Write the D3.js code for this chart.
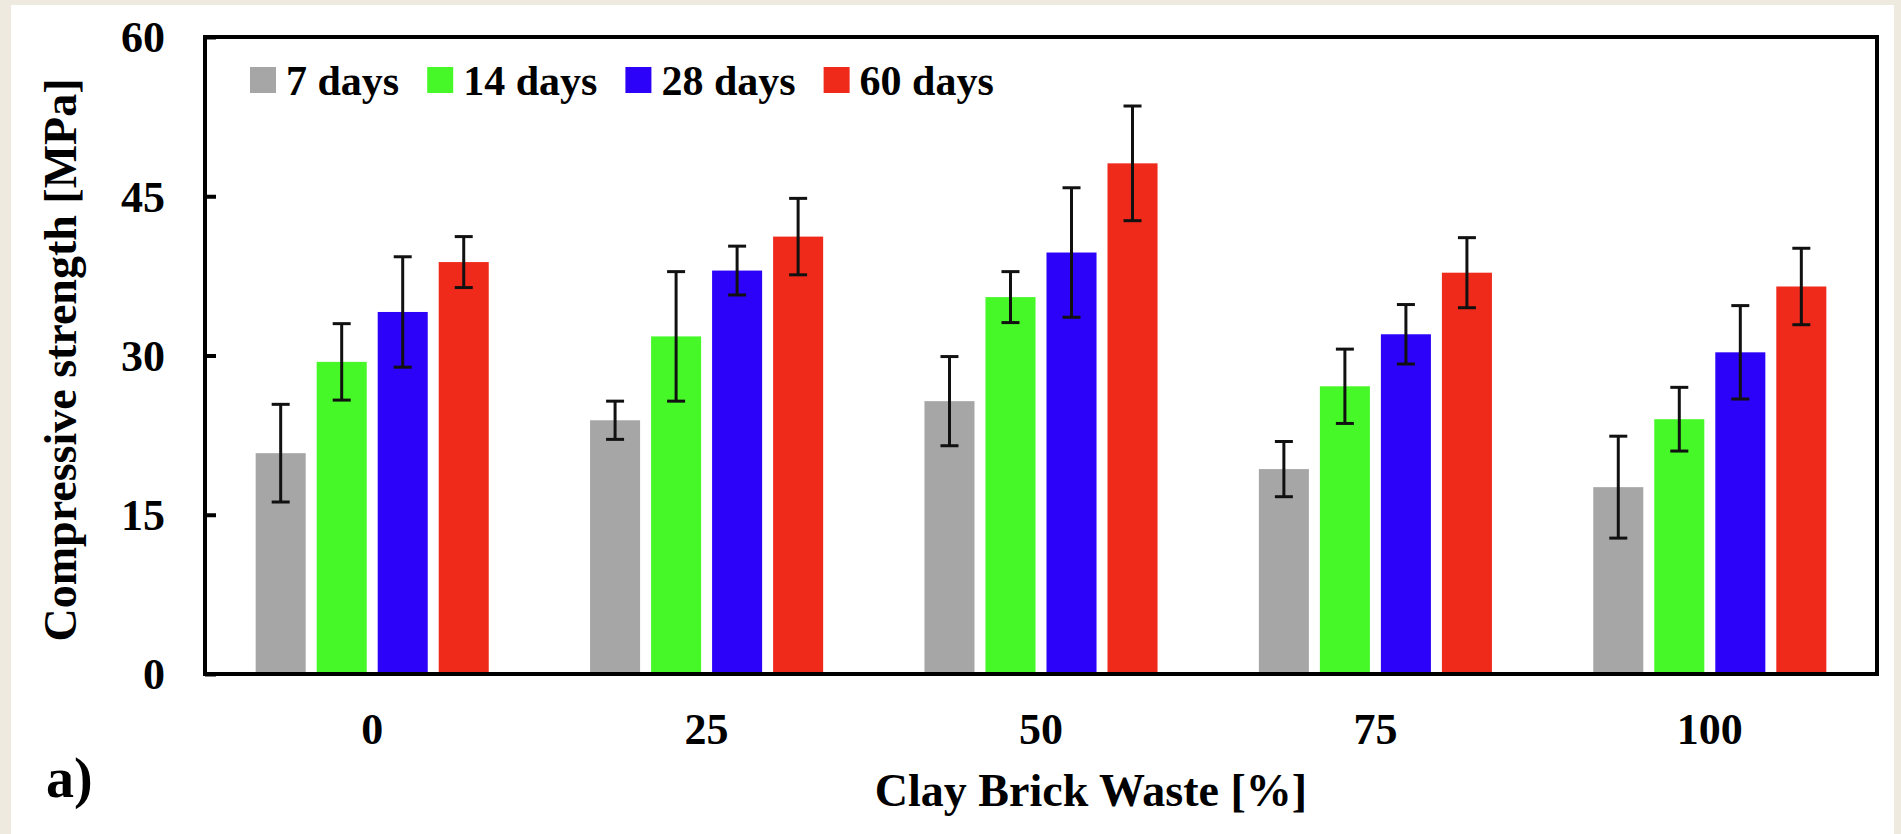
<!DOCTYPE html>
<meta charset="utf-8">
<style type="text/css">

body {
  margin: 0;
  background: #eeeae0;
  font-family: 'Liberation Serif', 'Times New Roman', serif;
}

svg text {
  font-weight: bold;
  fill: #000;
}

.frame {
  fill: none;
  stroke: #000;
  stroke-width: 4px;
}

.errbar {
  stroke: #111;
  stroke-width: 3px;
}

</style>
<body>
  <div class="g-chart"></div>
</body>
<script src="https://cdnjs.cloudflare.com/ajax/libs/d3/7.8.5/d3.min.js"></script>
<script type="text/javascript">

//Data
var categories = ["0", "25", "50", "75", "100"];
var series = ["7 days", "14 days", "28 days", "60 days"];
var colors = ["#a6a6a6", "#46f828", "#2c03f8", "#ef2a1b"];

var days7  = [20.8, 23.9, 25.7, 19.3, 17.6];
var days14 = [29.4, 31.8, 35.5, 27.1, 24.0];
var days28 = [34.1, 38.0, 39.7, 32.0, 30.3];
var days60 = [38.8, 41.2, 48.1, 37.8, 36.5];

var err7  = [4.6, 1.8, 4.2, 2.6, 4.8];
var err14 = [3.6, 6.1, 2.4, 3.5, 3.0];
var err28 = [5.2, 2.3, 6.1, 2.8, 4.4];
var err60 = [2.4, 3.6, 5.4, 3.3, 3.6];

var yTicks = [0, 15, 30, 45, 60];

var values = [days7, days14, days28, days60];
var errors = [err7, err14, err28, err60];

//Flatten into one row per bar
var rows = [];
categories.forEach(function(c, i) {
  series.forEach(function(s, j) {
    rows.push({cat: c, series: s, idx: j, value: values[j][i], err: errors[j][i]});
  });
});

//Sets dimensions
var width = 1901, height = 834;
var plot = {left: 205, right: 1877, top: 37, bottom: 674};

var svg = d3.select(".g-chart").append("svg")
  .attr("width", width)
  .attr("height", height)
  .style("display", "block");

//White panel
svg.append("rect")
  .attr("x", 11).attr("y", 5)
  .attr("width", width - 18).attr("height", height - 5)
  .attr("fill", "#ffffff");

//Scales
var x0 = d3.scaleBand()
  .domain(categories)
  .range([plot.left, plot.right])
  .paddingInner(0.303)
  .paddingOuter(0.1515);

var x1 = d3.scaleBand()
  .domain(series)
  .range([0, x0.bandwidth()])
  .paddingInner(0.18);

var y = d3.scaleLinear()
  .domain([0, 60])
  .range([plot.bottom, plot.top]);

var color = d3.scaleOrdinal().domain(series).range(colors);

//Bars
svg.append("g")
  .selectAll("rect")
  .data(rows)
  .enter().append("rect")
  .attr("x", function(d) { return x0(d.cat) + x1(d.series); })
  .attr("y", function(d) { return y(d.value); })
  .attr("width", x1.bandwidth())
  .attr("height", function(d) { return y(0) - y(d.value); })
  .attr("fill", function(d) { return color(d.series); });

//Error bars
var cap = 9;
var eb = svg.append("g").selectAll("g")
  .data(rows)
  .enter().append("g")
  .attr("class", "errbar");

eb.append("line")
  .attr("x1", function(d) { return x0(d.cat) + x1(d.series) + x1.bandwidth() / 2; })
  .attr("x2", function(d) { return x0(d.cat) + x1(d.series) + x1.bandwidth() / 2; })
  .attr("y1", function(d) { return y(d.value + d.err); })
  .attr("y2", function(d) { return y(d.value - d.err); });

[1, -1].forEach(function(sign) {
  eb.append("line")
    .attr("x1", function(d) { return x0(d.cat) + x1(d.series) + x1.bandwidth() / 2 - cap; })
    .attr("x2", function(d) { return x0(d.cat) + x1(d.series) + x1.bandwidth() / 2 + cap; })
    .attr("y1", function(d) { return y(d.value + sign * d.err); })
    .attr("y2", function(d) { return y(d.value + sign * d.err); });
});

//Y axis, ticks point inward
var yAxis = d3.axisLeft(y)
  .tickValues(yTicks)
  .tickSizeInner(-11)
  .tickSizeOuter(0)
  .tickPadding(40);

var gy = svg.append("g")
  .attr("transform", "translate(" + plot.left + ",0)")
  .call(yAxis);
gy.select(".domain").remove();
gy.selectAll("line").attr("stroke", "#000").attr("stroke-width", 4);
gy.selectAll("text")
  .attr("font-size", 44)
  .attr("font-family", "'Liberation Serif', 'Times New Roman', serif")
  .attr("dy", "0.34em");

//X axis labels
var xAxis = d3.axisBottom(x0).tickSize(0).tickPadding(0);
var gx = svg.append("g")
  .attr("transform", "translate(0," + plot.bottom + ")")
  .call(xAxis);
gx.select(".domain").remove();
gx.selectAll("text")
  .attr("font-size", 44)
  .attr("font-family", "'Liberation Serif', 'Times New Roman', serif")
  .attr("y", 55)
  .attr("dy", "0.34em");

//Frame
svg.append("rect")
  .attr("class", "frame")
  .attr("x", plot.left)
  .attr("y", plot.top)
  .attr("width", plot.right - plot.left)
  .attr("height", plot.bottom - plot.top);

//Legend
var lx = 250;
series.forEach(function(s) {
  svg.append("rect")
    .attr("x", lx).attr("y", 67)
    .attr("width", 26).attr("height", 26)
    .attr("fill", color(s));
  var t = svg.append("text")
    .attr("x", lx + 36).attr("y", 95)
    .attr("font-size", 42)
    .text(s);
  lx += 36 + t.node().getComputedTextLength() + 28;
});

//Axis titles
svg.append("text")
  .attr("transform", "translate(76,360) rotate(-90)")
  .attr("text-anchor", "middle")
  .attr("font-size", 46)
  .text("Compressive strength [MPa]");

svg.append("text")
  .attr("x", 1091).attr("y", 806)
  .attr("text-anchor", "middle")
  .attr("font-size", 46)
  .text("Clay Brick Waste [%]");

svg.append("text")
  .attr("x", 46).attr("y", 797)
  .attr("font-size", 56)
  .text("a)");

</script>
